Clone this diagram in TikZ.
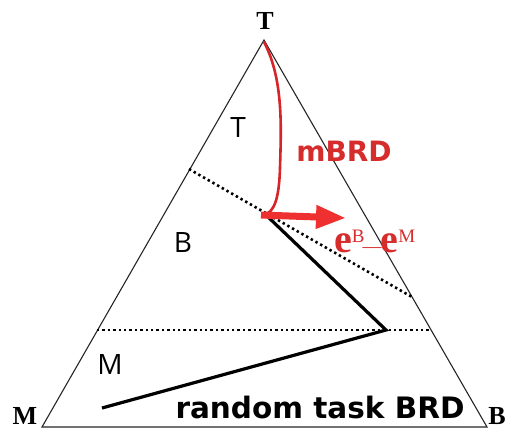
\documentclass[tikz,border=0pt]{standalone}
\usepackage{fontspec}
\setmainfont{Liberation Serif}
\newfontfamily\boldsans{DejaVu Sans}
\newfontfamily\handfont{Open Sans}
\usetikzlibrary{arrows.meta}
\definecolor{redline}{RGB}{214,36,40}
\definecolor{redarrow}{RGB}{238,48,48}
\definecolor{redtext}{RGB}{214,44,44}
\tikzset{
  edge/.style={line width=1.1pt, black!85},
  dotline/.style={line width=2.6pt, dash pattern=on 2.4pt off 3pt, black},
  brd/.style={line width=3.2pt, black, line join=miter},
  vlabel/.style={font=\fontsize{26}{26}\selectfont\bfseries, inner sep=0pt},
  hand/.style={font=\handfont\fontsize{28}{28}\selectfont, inner sep=0pt},
  bigsans/.style={font=\boldsans\bfseries\fontsize{29.5}{30}\selectfont, inner sep=0pt},
}
\begin{document}
\begin{tikzpicture}[x=1pt,y=-1pt]
\useasboundingbox (0,0) rectangle (511,432);
% triangle corners
\coordinate (Tc) at (264,40);
\coordinate (Mc) at (42,427);
\coordinate (Bc) at (487,427);
\draw[edge] (Tc) -- (Mc) -- (Bc) -- cycle;
% dotted region borders
\coordinate (d1a) at (189,169);
\coordinate (d1b) at (412,297);
\coordinate (d2a) at (97,330);
\coordinate (d2b) at (431,330);
\draw[dotline] (d1a) -- (d1b);
\draw[dotline] (d2a) -- (d2b);
% random task BRD path
\coordinate (p0) at (102,408);
\coordinate (p1) at (386,330);
\coordinate (p2) at (266,215);
\draw[brd] (p0) -- (p1) -- (p2);
% mBRD curve
\coordinate (c0) at (264,42);
\coordinate (c1) at (264,215);
\draw[redline, line width=2.6pt, line cap=round]
  (c0) .. controls (284,80) and (281,130) .. (280,168)
       .. controls (279,200) and (274,212) .. (c1);
% arrow
\coordinate (a0) at (261,215);
\coordinate (a1) at (346,218);
\draw[redarrow, line width=7pt, -{Triangle[length=30pt,width=22pt]}] (a0) -- (a1);
% vertex labels
\node[vlabel] (lT) at (265,21) {T};
\node[vlabel] (lM) at (25,416) {M};
\node[vlabel] (lB) at (497,416) {B};
% region labels
\node[hand] (rT) at (238,128) {T};
\node[hand] (rB) at (183,242) {B};
\node[hand] (rM) at (110,364) {M};
% red texts
\node[bigsans, redtext, font=\boldsans\bfseries\fontsize{28}{28}\selectfont] (mbrd) at (344,151) {mBRD};
\node[redtext, inner sep=0pt, anchor=base west] (eBeM) at (334,252)
  {{\fontsize{40}{40}\selectfont\bfseries e}\raisebox{10pt}{\fontsize{19}{19}\selectfont B}\kern-2pt{\fontsize{19}{19}\selectfont —}\kern-1pt{\fontsize{40}{40}\selectfont\bfseries e}\raisebox{10pt}{\fontsize{19}{19}\selectfont M}};
% bottom text
\node[bigsans, anchor=base] (rtb) at (320,418) {random task BRD};
\end{tikzpicture}
\end{document}
